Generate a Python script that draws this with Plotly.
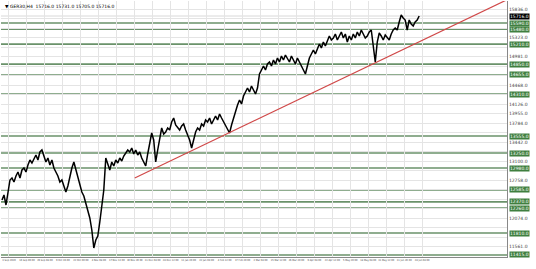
import plotly.graph_objects as go

closes = [12404, 12494, 12314, 12584, 12764, 12800, 12728, 12836, 12908, 12800,
          12944, 12980, 12908, 13034, 13124, 13070, 13160, 13214, 13124, 13268,
          13304, 13196, 13088, 13160, 13034, 13124, 12980, 12908, 12836, 12728,
          12764, 12656, 12548, 12656, 12836, 12980, 13088, 12944, 12800, 12674,
          12548, 12476, 12332, 12224, 12080, 11864, 11540, 11684, 11756, 12008,
          12314, 12584, 13160, 13034, 12944, 13088, 13016, 13124, 13070, 13160,
          13106, 13196, 13250, 13304, 13268, 13340, 13232, 13304, 13214, 13268,
          13160, 13088, 13016, 13232, 13394, 13610, 13484, 13088, 13304, 13484,
          13700, 13592, 13628, 13700, 13664, 13808, 13880, 13754, 13700, 13664,
          13736, 13772, 13664, 13574, 13484, 13340, 13484, 13628, 13700, 13664,
          13772, 13736, 13844, 13808, 13880, 13772, 13844, 13916, 13844, 13952,
          13880, 13808, 13736, 13664, 13610, 13754, 13880, 13988, 14114, 14204,
          14132, 14276, 14348, 14420, 14348, 14456, 14384, 14312, 14420, 14672,
          14744, 14816, 14744, 14852, 14888, 14816, 14924, 14852, 14960, 14888,
          14996, 14924, 15014, 14960, 14888, 14996, 14924, 14852, 14960, 14888,
          14816, 14744, 14672, 14816, 14960, 15032, 15104, 15032, 15140, 15212,
          15140, 15248, 15176, 15284, 15356, 15284, 15320, 15392, 15284, 15356,
          15428, 15320, 15392, 15248, 15356, 15284, 15392, 15320, 15428, 15356,
          15464, 15392, 15320, 15356, 15428, 15464, 15140, 14888, 15248, 15410,
          15356, 15284, 15374, 15320, 15284, 15392, 15464, 15500, 15464, 15608,
          15734, 15680, 15644, 15464, 15644, 15572, 15536, 15608, 15644, 15716]

levels = [15590, 15480, 15210, 14850, 14655, 14310, 13555, 13250, 12980,
          12585, 12370, 12260, 11810, 11415]

trend_x = [66.5, 256]
trend_y = [12800, 16060]

date_ticks = [3.5, 12.5, 21.5, 30.5, 39.5, 48.5, 57.5, 66.5, 75.5, 84.5,
              93.5, 102.5, 111.5, 120.5, 129.5, 138.5, 147.5, 156.5, 165.5,
              174.5, 183.5, 192.5, 201.5, 210.5]
date_labels = ["3 Sep 2020", "16 Sep 00:00", "29 Sep 08:00", "9 Oct 16:00",
               "22 Oct 00:00", "4 Nov 08:00", "17 Nov 12:00", "30 Nov 20:00",
               "11 Dec 04:00", "24 Dec 12:00", "11 Jan 20:00", "22 Jan 04:00",
               "4 Feb 12:00", "17 Feb 20:00", "2 Mar 04:00", "15 Mar 12:00",
               "26 Mar 20:00", "9 Apr 04:00", "22 Apr 12:00", "5 May 20:00",
               "18 May 04:00", "31 May 12:00", "11 Jun 20:00", "24 Jun 04:00"]

title_text = "▼ GER30,H4  15716.0 15731.0 15705.0 15716.0"

y_lo, y_hi, y_step, y_start = 11378, 15986, 171, 11390

x_idx = list(range(len(closes)))
last = closes[-1]

# grid ticks; gray labels hidden where a level label sits
grid_ticks = []
t = y_start
while t <= y_hi:
    grid_ticks.append(t)
    t += y_step
marks = levels + [last]
tick_text = [f"{g:.1f}" if min(abs(g - m) for m in marks) > 110 else ""
             for g in grid_ticks]

fig = go.Figure()
for lv in levels:
    fig.add_hline(y=lv, line=dict(color="#6a926a", width=1.6), layer="below")
fig.add_hline(y=last, line=dict(color="#d8d8d8", width=1), layer="below")

fig.add_trace(go.Scatter(x=x_idx, y=closes, mode="lines",
                         line=dict(color="black", width=1.5), hoverinfo="skip"))
fig.add_trace(go.Scatter(x=trend_x, y=trend_y, mode="lines",
                         line=dict(color="#d04848", width=1.2), hoverinfo="skip"))

for lv in levels:
    fig.add_annotation(x=1, xref="paper", y=lv, yref="y", xanchor="left",
                       yanchor="middle", text=f"{lv:.1f}", showarrow=False,
                       bgcolor="#3f7f3f", font=dict(size=4.5, color="white",
                       family="DejaVu Sans"), borderpad=0, xshift=2)
fig.add_annotation(x=1, xref="paper", y=last, yref="y", xanchor="left",
                   yanchor="middle", text=f"{last:.1f}", showarrow=False,
                   bgcolor="black", font=dict(size=4.5, color="white",
                   family="DejaVu Sans"), borderpad=0, xshift=2)
fig.add_annotation(x=0, xref="paper", y=1, yref="paper", xanchor="left",
                   yanchor="top", text=title_text, showarrow=False,
                   font=dict(size=4.5, color="black", family="DejaVu Sans"),
                   xshift=2, yshift=-1)

fig.update_layout(
    width=536, height=269,
    margin=dict(l=1, r=29, t=1, b=12),
    paper_bgcolor="white", plot_bgcolor="white",
    showlegend=False,
    xaxis=dict(range=[-0.5, 253], tickvals=date_ticks, ticktext=date_labels,
               tickangle=0, showgrid=True, gridcolor="#e4e4e4", gridwidth=1,
               tickfont=dict(size=2.6, color="#444",
                             family="DejaVu Sans Condensed"),
               ticks="", showline=True, linecolor="#888", linewidth=1,
               mirror=False, zeroline=False),
    yaxis=dict(range=[y_lo, y_hi], side="right", tickvals=grid_ticks,
               ticktext=tick_text, showgrid=True, gridcolor="#e4e4e4",
               gridwidth=1, tickfont=dict(size=4.5, color="#444",
               family="DejaVu Sans"), ticks="", showline=True,
               linecolor="#888", linewidth=1, zeroline=False),
)

fig.write_html("out.html")
